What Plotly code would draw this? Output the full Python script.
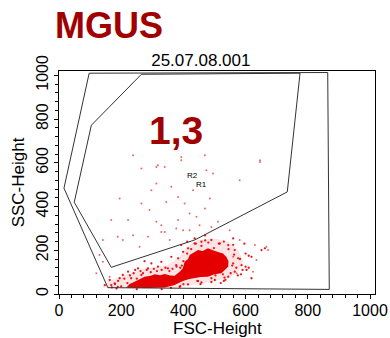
import plotly.graph_objects as go

# ---------------- data (FSC-Height, SSC-Height channels) ----------------
x_ticks = [0, 200, 400, 600, 800, 1000]
y_ticks = [0, 200, 400, 600, 800, 1000]

# gate R1 (outer polygon)
r1_fsc = [97, 16, 157, 683, 869, 864, 97]
r1_ssc = [1010, 484, 29, 23, 21, 1013, 1010]
# gate R2 (inner polygon)
r2_fsc = [265, 104, 49, 168, 436, 734, 775, 265]
r2_ssc = [1005, 772, 420, 122, 247, 467, 1010, 1005]

# dense event populations: outline of the solid core and of the speckled halo
core_fsc = [216, 227, 243, 262, 275, 295, 308, 325, 340, 358, 372, 388, 398, 404, 415,
            420, 433, 447, 462, 479, 495, 511, 526, 538, 545, 544, 535, 522, 500, 479,
            455, 436, 412, 393, 372, 340, 291, 216]
core_ssc = [29, 46, 56, 70, 79, 84, 90, 86, 92, 85, 84, 102, 118, 147, 160,
            178, 190, 201, 197, 209, 200, 193, 185, 170, 150, 125, 112, 95, 90, 79,
            78, 72, 66, 56, 41, 30, 27, 29]
halo_fsc = [136, 157, 211, 275, 350, 388, 410, 447, 501, 544, 576, 592, 576, 544,
            479, 415, 372, 136]
halo_ssc = [29, 56, 87, 117, 132, 170, 216, 247, 254, 239, 201, 147, 102, 72,
            53, 38, 29, 29]

# sparse events
dot_fsc = [238, 265, 318, 340, 393, 469, 495, 361, 383, 265, 291, 345, 404, 469, 485,
           581, 646, 195, 168, 222, 313, 383, 420, 511, 189, 238, 259, 340, 377, 452,
           549, 581, 667, 624, 560, 141, 120, 163, 571, 635, 474, 431, 442, 313, 297,
           205, 490, 329, 420, 356, 286, 329, 399, 630, 672, 130, 141, 313, 393, 646]
dot_ssc = [635, 574, 589, 581, 612, 635, 551, 490, 444, 414, 384, 421, 414, 391, 437,
           520, 604, 437, 338, 338, 330, 338, 368, 330, 262, 269, 216, 284, 300, 315,
           292, 247, 216, 102, 170, 247, 95, 79, 95, 155, 566, 475, 353, 505, 475,
           247, 307, 315, 292, 247, 262, 284, 292, 224, 201, 178, 147, 581, 627, 612]

# speckled events around the two dense populations
speck_fsc = [147, 163, 179, 195, 205, 222, 254, 286, 318, 350, 377, 383, 399, 415, 436,
             458, 490, 517, 544, 565, 576, 587, 565, 544, 501, 458, 415, 619, 651, 603,
             619, 662, 560, 436, 393, 361, 329, 297, 265, 232, 189, 168, 388, 447, 527,
             490, 600, 610, 530, 470, 412, 455, 520, 560, 596, 245, 275,
             405, 418, 425, 432, 440, 446, 452, 458, 463, 468, 474, 480, 486, 492, 498,
             503, 508, 514, 520, 526, 532, 538, 545, 552, 557, 563, 570, 575, 582, 590,
             560, 530, 470, 440, 425, 412, 400, 395, 410, 445, 490, 535, 585, 600, 610,
             170, 180, 190, 200, 210, 220, 228, 240, 250, 262, 270, 282, 295, 305, 315,
             330, 342, 355, 365, 378, 390, 398, 360, 390, 400, 330, 250, 185]
speck_ssc = [41, 64, 49, 72, 87, 102, 117, 117, 125, 117, 132, 163, 193, 209, 231,
             239, 247, 231, 224, 201, 163, 132, 102, 79, 64, 53, 44, 170, 201, 110,
             72, 209, 254, 254, 224, 170, 147, 140, 87, 72, 33, 41, 33, 59, 90,
             72, 185, 120, 60, 268, 240, 45, 50, 140, 230, 110, 150,
             120, 95, 160, 130, 185, 105, 150, 220, 90, 175, 125, 235, 100, 160, 210,
             85, 140, 230, 115, 180, 75, 150, 205, 95, 130, 180, 120, 85, 160, 110,
             225, 240, 245, 230, 205, 185, 150, 130, 70, 60, 55, 65, 90, 125, 175,
             30, 45, 60, 35, 70, 50, 85, 95, 70, 105, 95, 110, 100, 115, 105,
             110, 120, 105, 115, 125, 120, 95, 28, 36, 45, 22, 22, 25]

# ---------------- figure ----------------
RED = "rgb(228,0,0)"
DARKRED = "#a00000"
fig = go.Figure()

fig.add_trace(go.Scatter(x=halo_fsc, y=halo_ssc, mode="lines", fill="toself",
                         fillcolor="rgba(235,30,30,0.12)", line=dict(width=0),
                         hoverinfo="skip"))
fig.add_trace(go.Scatter(x=core_fsc, y=core_ssc, mode="lines", fill="toself",
                         fillcolor=RED, line=dict(width=0, color=RED), hoverinfo="skip"))
fig.add_trace(go.Scatter(x=speck_fsc, y=speck_ssc, mode="markers",
                         marker=dict(size=2.3, color="rgba(228,0,0,0.9)", line=dict(width=0))))
fig.add_trace(go.Scatter(x=dot_fsc, y=dot_ssc, mode="markers",
                         marker=dict(size=2, color="rgba(230,0,0,0.6)", line=dict(width=0))))
for gx, gy in ((r1_fsc, r1_ssc), (r2_fsc, r2_ssc)):
    fig.add_trace(go.Scatter(x=gx, y=gy, mode="lines",
                             line=dict(color="#333333", width=1), hoverinfo="skip"))

axis_common = dict(
    showline=True, linecolor="black", linewidth=1, mirror=True,
    showgrid=False, zeroline=False, automargin=False,
    ticks="outside", ticklen=4, tickwidth=1, tickcolor="black",
    tickmode="array",
    minor=dict(tick0=0, dtick=40, ticks="outside", ticklen=3, tickwidth=1,
               tickcolor="black", showgrid=False),
    tickfont=dict(size=16, color="black"),
)
fig.update_xaxes(range=[0, 1016], tickvals=x_ticks, ticktext=[str(v) for v in x_ticks],
                 ticklabelstandoff=-2, **axis_common)
fig.update_yaxes(range=[0, 1020], tickvals=y_ticks, ticktext=[str(v) for v in y_ticks],
                 tickangle=-90,
                 title=dict(text="SSC-Height", font=dict(size=17), standoff=4),
                 **axis_common)

fig.update_layout(
    width=390, height=338,
    margin=dict(l=59, r=15, t=71, b=44),
    plot_bgcolor="white", paper_bgcolor="white",
    showlegend=False,
    font=dict(family="Liberation Sans, Arial, sans-serif", color="black"),
    title=dict(text="25.07.08.001", x=0.515, xanchor="center", xref="container",
               y=1 - 60.5 / 338, yanchor="middle", yref="container",
               font=dict(size=17, color="black")),
    annotations=[
        dict(text="FSC-Height", xref="paper", yref="paper", x=0.5, y=-0.154,
             xanchor="center", yanchor="middle", showarrow=False,
             font=dict(size=17, color="black")),
        dict(text="<b>MGUS</b>", xref="paper", yref="paper", x=0.158, y=1.204,
             xanchor="center", yanchor="middle", showarrow=False,
             font=dict(size=36, color=DARKRED)),
        dict(text="<b>1,3</b>", xref="paper", yref="paper", x=0.37, y=0.735,
             xanchor="center", yanchor="middle", showarrow=False,
             font=dict(size=39, color=DARKRED)),
        dict(text="R2", x=429, y=544, xref="x", yref="y", showarrow=False,
             font=dict(size=8, color="black")),
        dict(text="R1", x=458, y=501, xref="x", yref="y", showarrow=False,
             font=dict(size=8, color="black")),
    ],
)

fig.write_html(
    "out.html",
    config={"responsive": False, "displayModeBar": False},
    post_script="document.body.style.margin='0px';document.body.style.overflow='hidden';",
)
